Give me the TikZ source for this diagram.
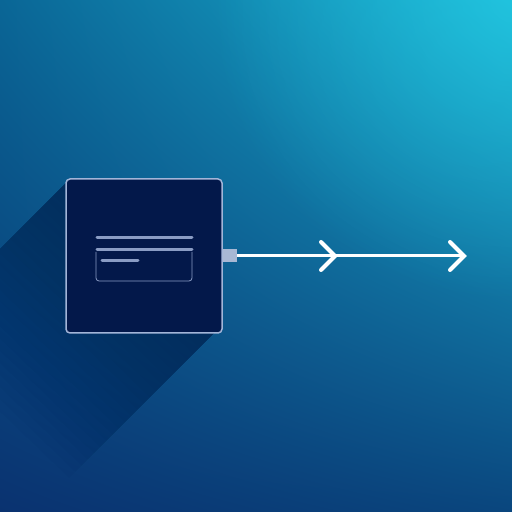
\documentclass[tikz,border=0pt]{standalone}
\usetikzlibrary{fadings,shadings}
\definecolor{bgUR}{HTML}{1AB2D2}
\definecolor{bgUL}{HTML}{0A6696}
\definecolor{bgLL}{HTML}{0A3270}
\definecolor{bgLR}{HTML}{0A467E}
\definecolor{glow}{HTML}{28D4EA}
\definecolor{boxfill}{HTML}{03184A}
\definecolor{boxedge}{HTML}{A3B5D8}
\definecolor{glyph}{HTML}{8A9CC4}
\definecolor{stubc}{HTML}{A8B8D4}
\definecolor{shadowc}{HTML}{021A48}
\tikzfading[name=glowfade, inner color=transparent!0, outer color=transparent!100]
\tikzset{
  card/.style={draw=boxedge, fill=boxfill, line width=1.5pt, rounded corners=4pt, minimum width=156pt, minimum height=154pt, inner sep=0pt},
  glyphline/.style={draw=glyph, line width=3pt, line cap=round},
  conn/.style={draw=white, line width=3pt},
  chevron/.style={draw=white, line width=4pt, line cap=round, line join=miter},
}
\begin{document}
\begin{tikzpicture}[x=1pt,y=1pt]
\useasboundingbox (0,0) rectangle (512,512);
\shade[upper right=bgUR, upper left=bgUL, lower left=bgLL, lower right=bgLR] (0,0) rectangle (512,512);
\begin{scope}
\clip (0,0) rectangle (512,512);
\fill[glow, opacity=0.5, path fading=glowfade] (512,512) circle (300);
\foreach \k in {1,...,24}{
  \pgfmathsetmacro{\L}{6.2*\k}
  \fill[shadowc, opacity=0.035]
    (66,329) -- (66,183) -- (218,183) -- (218-\L,183-\L) -- (66-\L,329-\L) -- cycle;
}
\end{scope}
\node[card] (box) at (144,256) {};
\coordinate (l1a) at (97,274); \coordinate (l1b) at (192,274);
\coordinate (l2a) at (97,262); \coordinate (l2b) at (192,262);
\coordinate (l3a) at (102,251); \coordinate (l3b) at (138,251);
\draw[glyphline] (l1a) -- (l1b);
\draw[glyphline] (l2a) -- (l2b);
\draw[glyphline] (l3a) -- (l3b);
\draw[draw=glyph, line width=0.8pt, rounded corners=3pt] (96,260) -- (96,231) -- (192,231) -- (192,260);
\node[fill=stubc, minimum width=14pt, minimum height=13pt, inner sep=0pt, anchor=west] (stub) at (box.east) {};
\coordinate (mid) at (335,256);
\coordinate (endpt) at (464,256);
\draw[conn] (stub.east) -- (endpt);
\draw[chevron] (321,270) -- (mid) -- (321,242);
\draw[chevron] (450,270) -- (endpt) -- (450,242);
\end{tikzpicture}
\end{document}
